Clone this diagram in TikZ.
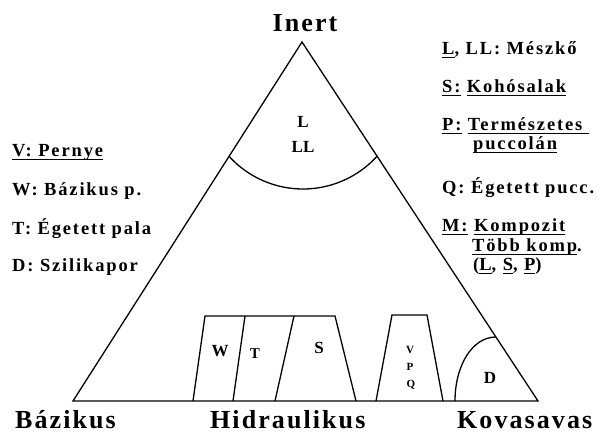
\documentclass[tikz,border=0pt]{standalone}
\usepackage{fontspec}
\setmainfont{Liberation Serif}
\newfontfamily\labfont[LetterSpace=10]{Liberation Serif}
\newfontfamily\bigfont[LetterSpace=8]{Liberation Serif}
\newcommand\myul[1]{\setbox0\hbox{#1}\rlap{\rule[-3pt]{\wd0}{1.2pt}}\box0\relax}
\begin{document}
\begin{tikzpicture}[x=1pt,y=-1pt,
  edge/.style={line width=1.3pt, line join=miter},
  legend/.style={anchor=base west, inner sep=0pt, font=\labfont\bfseries\fontsize{18.5}{22}\selectfont},
  corner/.style={anchor=base west, inner sep=0pt, font=\bigfont\bfseries\fontsize{26}{30}\selectfont},
  zone/.style={inner sep=0pt, font=\bfseries\fontsize{17}{20}\selectfont},
  small/.style={inner sep=0pt, font=\bfseries\fontsize{11}{13}\selectfont}]
\useasboundingbox (0,0) rectangle (598,433);
% triangle corners
\coordinate (A) at (302,42);
\coordinate (B) at (73,401);
\coordinate (C) at (538,401);
\draw[edge] (A) -- (B) -- (C) -- cycle;
% L / LL zone arc
\draw[edge] (303,89) ++(138:100) arc[start angle=138, end angle=42, radius=100];
% W, T, S trapezoids
\coordinate (w1) at (205,316); \coordinate (w2) at (193,401);
\coordinate (t1) at (245,316); \coordinate (t2) at (233,401);
\coordinate (s1) at (294,316); \coordinate (s2) at (275,401);
\coordinate (s3) at (335,316); \coordinate (s4) at (356,401);
\draw[edge] (w2) -- (w1) -- (s3) -- (s4);
\draw[edge] (t1) -- (t2);
\draw[edge] (s1) -- (s2);
% VPQ trapezoid
\coordinate (v1) at (376,401); \coordinate (v2) at (392,315);
\coordinate (v3) at (427,315); \coordinate (v4) at (443,401);
\draw[edge] (v1) -- (v2) -- (v3) -- (v4);
% D zone
\coordinate (d1) at (455,401); \coordinate (d2) at (496,337);
\draw[edge] (d1) .. controls (455,366) and (472,337) .. (d2);
% zone labels
\node[zone] (nL) at (303,122) {L};
\node[zone] (nLL) at (303,147) {LL};
\node[zone] (nW) at (220,351) {W};
\node[zone, font=\bfseries\fontsize{15}{18}\selectfont] (nT) at (255,354) {T};
\node[zone] (nS) at (319,348) {S};
\node[small] (nV) at (410,350) {V};
\node[small] (nP) at (410,367) {P};
\node[small] (nQ) at (411,385) {Q};
\node[zone] (nD) at (490,378) {D};
% corner labels
\node[corner, anchor=base] (inert) at (305,32) {Inert};
\node[corner] (baz) at (15,428) {Bázikus};
\node[corner] (hid) at (210,428) {Hidraulikus};
\node[corner] (kov) at (457,428) {Kovasavas};
% left legend
\node[legend] (lv) at (12,157) {\myul{V: Pernye}};
\node[legend] (lw) at (12,196) {W: Bázikus p.};
\node[legend] (lt) at (12,235) {T: Égetett pala};
\node[legend] (ld) at (12,272) {D: Szilikapor};
% right legend
\node[legend] (rl) at (442,55) {\myul{L}, LL: Mészkő};
\node[legend] (rs) at (442,93) {\myul{S:} \myul{Kohósalak}};
\node[legend] (rp) at (442,131) {\myul{P:} \myul{Természetes\ }};
\node[legend] (rp2) at (473,150) {\myul{puccolán}};
\node[legend] (rq) at (442,194) {Q: Égetett pucc.};
\node[legend] (rm) at (442,232) {\myul{M:} \myul{Kompozit}};
\node[legend] (rm2) at (472,252) {\myul{Több komp}.};
\node[legend] (rm3) at (473,271) {(\myul{L}, \myul{S}, \myul{P})};
\end{tikzpicture}
\end{document}
